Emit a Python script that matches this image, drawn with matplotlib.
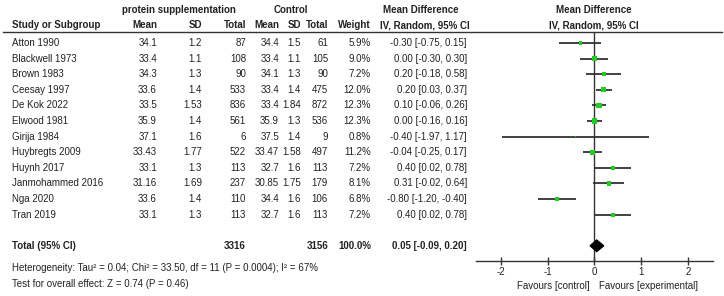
import numpy as np
import matplotlib.pyplot as plt

plt.rcParams['font.family'] = ['Liberation Sans Narrow', 'Liberation Sans', 'DejaVu Sans']

# данные из рисунка
studies = ['Atton 1990', 'Blackwell 1973', 'Brown 1983', 'Ceesay 1997', 'De Kok 2022',
           'Elwood 1981', 'Girija 1984', 'Huybregts 2009', 'Huynh 2017',
           'Janmohammed 2016', 'Nga 2020', 'Tran 2019']
exp_mean = ['34.1', '33.4', '34.3', '33.6', '33.5', '35.9', '37.1', '33.43', '33.1', '31.16', '33.6', '33.1']
exp_sd = ['1.2', '1.1', '1.3', '1.4', '1.53', '1.4', '1.6', '1.77', '1.3', '1.69', '1.4', '1.3']
exp_n = [87, 108, 90, 533, 836, 561, 6, 522, 113, 237, 110, 113]
ctl_mean = ['34.4', '33.4', '34.1', '33.4', '33.4', '35.9', '37.5', '33.47', '32.7', '30.85', '34.4', '32.7']
ctl_sd = ['1.5', '1.1', '1.3', '1.4', '1.84', '1.3', '1.4', '1.58', '1.6', '1.75', '1.6', '1.6']
ctl_n = [61, 105, 90, 475, 872, 536, 9, 497, 113, 179, 106, 113]
weight = [5.9, 9.0, 7.2, 12.0, 12.3, 12.3, 0.8, 11.2, 7.2, 8.1, 6.8, 7.2]
md = [-0.30, 0.00, 0.20, 0.20, 0.10, 0.00, -0.40, -0.04, 0.40, 0.31, -0.80, 0.40]
ci_low = [-0.75, -0.30, -0.18, 0.03, -0.06, -0.16, -1.97, -0.25, 0.02, -0.02, -1.20, 0.02]
ci_high = [0.15, 0.30, 0.58, 0.37, 0.26, 0.16, 1.17, 0.17, 0.78, 0.64, -0.40, 0.78]

total_exp = 3316
total_ctl = 3156
total_md = 0.05
total_low = -0.09
total_high = 0.20
heterogeneity = 'Heterogeneity: Tau² = 0.04; Chi² = 33.50, df = 11 (P = 0.0004); I² = 67%'
overall = 'Test for overall effect: Z = 0.74 (P = 0.46)'
x_ticks = [-2, -1, 0, 1, 2]

W, H = 724, 296
FS = 7.0
TXT = '#222222'
GREEN = '#22cc22'

fig = plt.figure(figsize=(W / 100, H / 100), dpi=100)

# таблица в пиксельных координатах
ax_t = fig.add_axes([0, 0, 1, 1])
ax_t.set_xlim(0, W)
ax_t.set_ylim(H, 0)
ax_t.axis('off')


def row_y(i):
    return 43 + 15.6 * i


def put(x, y, s, ha='right', bold=False):
    ax_t.text(x, y, s, ha=ha, va='center', fontsize=FS, color=TXT,
              fontweight='bold' if bold else 'normal')


# заголовки
put(179, 10, 'protein supplementation', ha='center', bold=True)
put(291, 10, 'Control', ha='center', bold=True)
put(421, 10, 'Mean Difference', ha='center', bold=True)
put(594, 10, 'Mean Difference', ha='center', bold=True)
put(12, 25, 'Study or Subgroup', ha='left', bold=True)
cols = [157, 202, 246, 279, 301, 328, 371]
for x, s in zip(cols, ['Mean', 'SD', 'Total', 'Mean', 'SD', 'Total', 'Weight']):
    put(x, 25, s, bold=True)
put(425, 25, 'IV, Random, 95% CI', ha='center', bold=True)
put(594, 25, 'IV, Random, 95% CI', ha='center', bold=True)
ax_t.plot([3, 722], [32, 32], color='#333333', lw=1.0)

for i, name in enumerate(studies):
    y = row_y(i)
    put(12, y, name, ha='left')
    vals = [exp_mean[i], exp_sd[i], exp_n[i], ctl_mean[i], ctl_sd[i], ctl_n[i],
            f'{weight[i]:.1f}%']
    for x, v in zip(cols, vals):
        put(x, y, str(v))
    put(467, y, f'{md[i]:.2f} [{ci_low[i]:.2f}, {ci_high[i]:.2f}]')

yt = row_y(13)
put(12, yt, 'Total (95% CI)', ha='left', bold=True)
put(246, yt, str(total_exp), bold=True)
put(328, yt, str(total_ctl), bold=True)
put(371, yt, '100.0%', bold=True)
put(467, yt, f'{total_md:.2f} [{total_low:.2f}, {total_high:.2f}]', bold=True)
put(12, 268, heterogeneity, ha='left')
put(12, 284, overall, ha='left')

# лесной график
x0, x1 = 475.7, 713
y_top, y_bot = 32, 261
ax_f = fig.add_axes([x0 / W, (H - y_bot) / H, (x1 - x0) / W, (y_bot - y_top) / H])
ax_f.set_xlim(-2.54, 2.54)
ax_f.set_ylim((y_bot - 43) / 15.6, (y_top - 43) / 15.6)
ax_f.patch.set_alpha(0)
for side in ['top', 'left', 'right']:
    ax_f.spines[side].set_visible(False)
ax_f.spines['bottom'].set_color('#333333')
ax_f.spines['bottom'].set_linewidth(1.0)
ax_f.set_yticks([])
ax_f.set_xticks(x_ticks)
ax_f.set_xticklabels([str(t) for t in x_ticks])
ax_f.tick_params(axis='x', direction='inout', length=6, width=1.0, colors='#333333',
                 labelsize=FS, labelcolor=TXT, pad=1)

ax_f.axvline(0, color='#333333', lw=1.0, zorder=1)

rows = np.arange(len(studies))
ax_f.hlines(rows, ci_low, ci_high, color='#333333', lw=1.3, zorder=2)
sizes = 14 * np.array(weight) / 12.0
ax_f.scatter(md, rows, s=sizes, marker='s', color=GREEN, zorder=3, linewidths=0)

ax_f.fill([total_low, total_md, total_high, total_md],
          [13, 13 - 0.37, 13, 13 + 0.37], color='black', zorder=3)

put(590, 286, 'Favours [control]')
put(599, 286, 'Favours [experimental]', ha='left')

fig.savefig('out.png', dpi=100)
